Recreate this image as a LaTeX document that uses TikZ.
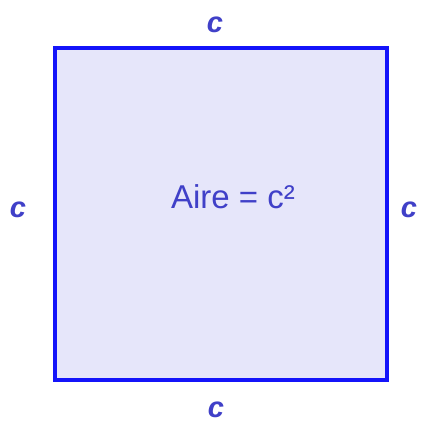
\documentclass[tikz,border=0pt]{standalone}
\usepackage{fontspec}
\setmainfont{Liberation Sans}
\usepackage{tikz}
\definecolor{sideblue}{RGB}{20,20,250}
\definecolor{areafill}{RGB}{230,230,250}
\definecolor{textblue}{RGB}{64,64,200}

\begin{document}
\begin{tikzpicture}[x=1pt,y=-1pt,
  sidelabel/.style={anchor=base,text=textblue,font=\fontsize{29}{29}\selectfont\bfseries\itshape,inner sep=0pt}]
\useasboundingbox (0,0) rectangle (420,425);
% the square
\draw[sideblue,line width=4pt,fill=areafill] (55,48) rectangle (387,380);
\node[anchor=base,text=textblue,font=\fontsize{33}{33}\selectfont,inner sep=0pt] (aire) at (233,208) {Aire = c²};
% side labels
\node[sidelabel] (ctop) at (215,33) {c};
\node[sidelabel] (cleft) at (18,217) {c};
\node[sidelabel] (cright) at (409,217) {c};
\node[sidelabel] (cbottom) at (216,417) {c};
\end{tikzpicture}
\end{document}
